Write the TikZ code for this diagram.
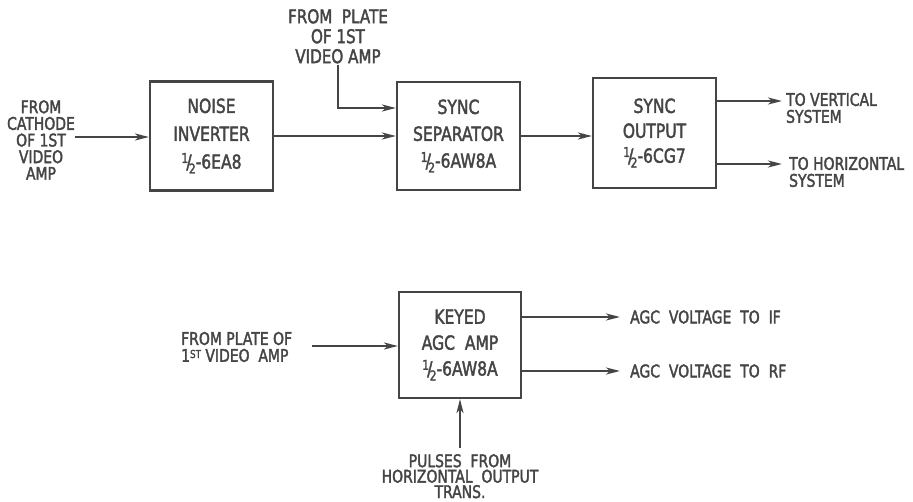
\documentclass[tikz,border=0pt]{standalone}
\usepackage{fontspec}
\newfontfamily\lett[FakeStretch=0.80,FakeBold=2]{DejaVu Sans}
\usetikzlibrary{arrows.meta}
\definecolor{ink}{HTML}{454545}
\newcommand\hf{\raisebox{0.55ex}{\fontsize{13.5}{12}\selectfont 1}\kern-0.1em/\kern-0.14em\raisebox{-0.45ex}{\fontsize{13.5}{12}\selectfont 2}}
\newcommand\sst{\raisebox{0.4ex}{\fontsize{11}{11}\selectfont ST}}
\newcommand\fs[1]{\lett\fontsize{17.5}{#1}\selectfont}
\newcommand\fb[1]{\lett\fontsize{19.5}{#1}\selectfont}
\begin{document}
\begin{tikzpicture}[x=1bp,y=-1bp,
  every node/.style={text=ink, font=\fs{17}, inner sep=0pt},
  blk/.style={draw=ink, line width=2.2bp, minimum width=123bp, align=center},
  arr/.style={draw=ink, line width=2.2bp, -{Stealth[length=14bp,width=7bp,inset=4bp]}},
  lbl/.style={align=center},
  lbll/.style={align=left}]
\useasboundingbox (0,0) rectangle (913,502);
% top row boxes
\node[blk, minimum height=109bp, font=\fb{28}] (ni) at (211.5,136)
  {NOISE\\INVERTER\\\hf-6EA8};
\node[blk, minimum height=108bp, font=\fb{27}] (ss) at (458.5,136)
  {SYNC\\SEPARATOR\\\hf-6AW8A};
\node[blk, minimum height=110bp, font=\fb{25}] (so) at (654.5,133)
  {SYNC\\OUTPUT\\\hf-6CG7};
% bottom box
\node[blk, minimum width=122bp, minimum height=106bp, font=\fb{26}] (ka) at (460,345)
  {KEYED\\AGC\ \ AMP\\\hf-6AW8A};
% labels
\node[lbl, font=\fs{16.7}] (tcath) at (41,140) {FROM\\CATHODE\\OF 1ST\\VIDEO\\AMP};
\node[lbl, anchor=north, font=\lett\fontsize{19}{20}\selectfont] (tplate) at (338,9) {FROM\ \ PLATE\\OF 1ST\\VIDEO AMP};
\node[lbll, anchor=west, font=\fs{17}] (tvert) at (786,108) {TO\ VERTICAL\\SYSTEM};
\node[lbll, anchor=west, font=\fs{17}] (thor) at (789,172) {TO\ HORIZONTAL\\SYSTEM};
\node[lbll, anchor=west, font=\fs{17}] (tplate2) at (181,347) {FROM\ PLATE\ OF\\1\sst\ VIDEO\ \ AMP};
\node[lbll, anchor=west] (tif) at (630,317) {AGC\ \ VOLTAGE\ \ TO\ \ IF};
\node[lbll, anchor=west] (trf) at (630,371) {AGC\ \ VOLTAGE\ \ TO\ \ RF};
\node[lbl, anchor=north, font=\fs{15.5}] (tpul) at (460,454) {PULSES\ \ FROM\\HORIZONTAL\ \ OUTPUT\\TRANS.};
% coordinates
\coordinate (cin) at (75,137);
\coordinate (pin) at (338,65);
\coordinate (tv) at (782,101);
\coordinate (th) at (782,164);
\coordinate (kin) at (312,346);
\coordinate (kif) at (620,317);
\coordinate (krf) at (620,371);
\coordinate (kpul) at (460,448);
% connectors
\draw[arr] (cin) -- (cin -| ni.west);
\draw[arr] (ni.east) -- (ni.east -| ss.west);
\draw[arr] (pin) |- ([yshift=28bp]ss.west);
\draw[arr] (ss.east) -- (ss.east -| so.west);
\draw[arr] (so.east |- tv) -- (tv);
\draw[arr] (so.east |- th) -- (th);
\draw[arr] (kin) -- (kin -| ka.west);
\draw[arr] (ka.east |- kif) -- (kif);
\draw[arr] (ka.east |- krf) -- (krf);
\draw[arr] (kpul) -- (ka.south);
\end{tikzpicture}
\end{document}
